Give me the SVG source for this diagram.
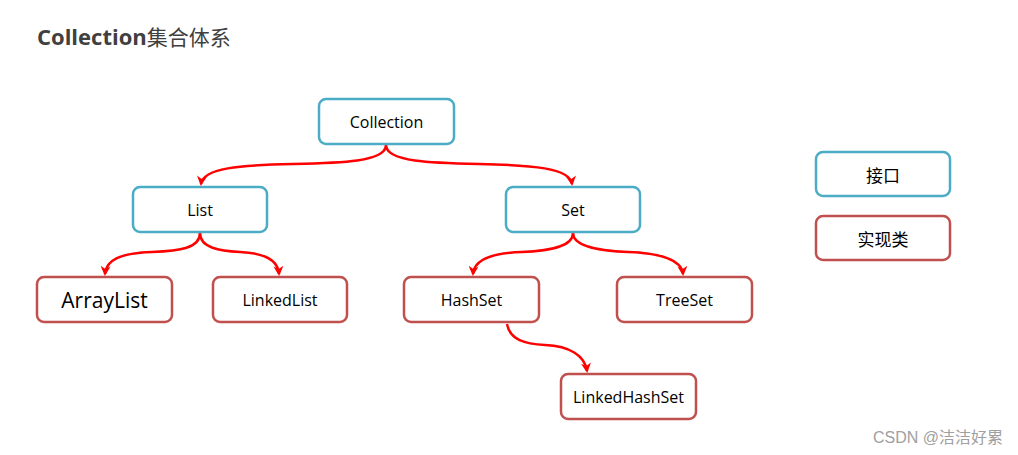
<svg xmlns="http://www.w3.org/2000/svg" width="1018" height="455" viewBox="0 0 1018 455">
<style>
.iface{fill:#fff;stroke:#4bacc6;stroke-width:2.5}
.impl{fill:#fff;stroke:#c0504d;stroke-width:2.5}
.t{font-family:"Open Sans","Liberation Sans",sans-serif;font-size:16px;fill:#000;text-anchor:middle;dominant-baseline:central}
.big{font-size:21px}
.cjk{font-family:"Noto Sans CJK SC",sans-serif;font-size:17px;fill:#000;text-anchor:middle;dominant-baseline:central}
.c{fill:none;stroke:#ff0000;stroke-width:2.5;marker-end:url(#ah)}
</style>
<defs>
<marker id="ah" viewBox="0 0 10 10" refX="8" refY="5" markerWidth="4" markerHeight="4" orient="auto-start-reverse" markerUnits="strokeWidth">
<path d="M0,0 L10,5 L0,10 L3,5 Z" fill="#ff0000"/>
</marker>
</defs>
<rect width="1018" height="455" fill="#fff"/>
<text x="37" y="45" font-family="Open Sans,Liberation Sans,sans-serif" font-size="22" font-weight="bold" fill="#404040">Collection<tspan font-family="Noto Sans CJK SC,sans-serif" font-weight="normal" font-size="21">集合体系</tspan></text>
<g id="connectors">
<path class="c" d="M386,145 C386,162 340,163 293,164 C240,165 203,168 201,184"/>
<path class="c" d="M386,145 C386,162 432,163 479,164 C532,165 570,168 572,184"/>
<path class="c" d="M200,233 C200,248 180,251 152,252 C120,253 106,260 105,274"/>
<path class="c" d="M200,233 C200,248 220,251 240,252 C265,253 278,260 279,274"/>
<path class="c" d="M573,233 C573,248 545,251 522,252 C490,253 474,260 473,274"/>
<path class="c" d="M573,233 C573,248 605,251 628,252 C660,253 682,260 683,274"/>
<path class="c" d="M507,324 C510,340 525,344 545,345 C570,346 585,356 587,371"/>
</g>
<g id="collection"><rect class="iface" x="319" y="99" width="135" height="45" rx="7"/><text class="t" x="386.5" y="122">Collection</text></g>
<g id="list"><rect class="iface" x="133" y="187" width="134" height="45" rx="7"/><text class="t" x="200" y="210">List</text></g>
<g id="set"><rect class="iface" x="506" y="187" width="134" height="45" rx="7"/><text class="t" x="573" y="210">Set</text></g>
<g id="arraylist"><rect class="impl" x="37" y="277" width="135" height="45" rx="7"/><text class="t big" x="104.5" y="300">ArrayList</text></g>
<g id="linkedlist"><rect class="impl" x="213" y="277" width="134" height="45" rx="7"/><text class="t" x="280" y="300">LinkedList</text></g>
<g id="hashset"><rect class="impl" x="404" y="277" width="135" height="45" rx="7"/><text class="t" x="471.5" y="300">HashSet</text></g>
<g id="treeset"><rect class="impl" x="617" y="277" width="135" height="45" rx="7"/><text class="t" x="684.5" y="300">TreeSet</text></g>
<g id="linkedhashset"><rect class="impl" x="561" y="374" width="135" height="45" rx="7"/><text class="t" x="628.5" y="397">LinkedHashSet</text></g>
<g id="legend-interface"><rect class="iface" x="816" y="152" width="134" height="44" rx="7"/><text class="cjk" x="883" y="174">接口</text></g>
<g id="legend-impl"><rect class="impl" x="816" y="216" width="134" height="44" rx="7"/><text class="cjk" x="883" y="238">实现类</text></g>
<text x="1003" y="443" text-anchor="end" font-family="Liberation Sans,Noto Sans CJK SC,sans-serif" font-size="16" fill="#a0a0a0">CSDN @洁洁好累</text>
</svg>
